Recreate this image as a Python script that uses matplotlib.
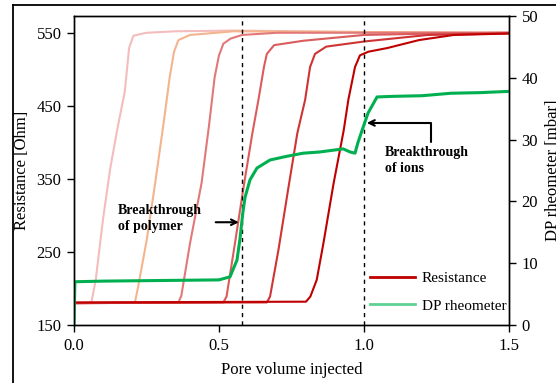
#! /usr/bin/env python3

import matplotlib
matplotlib.use("Agg")
import matplotlib.pyplot as plt
from matplotlib.lines import Line2D

plt.rcParams['font.family'] = ['Liberation Serif', 'DejaVu Serif']

# resistance curves (pore volume injected, resistance in Ohm)
pv_1  = [0, 0.06, 0.075, 0.10, 0.125, 0.15, 0.175, 0.19, 0.205, 0.25, 0.35, 0.55, 1.0, 1.5]
res_1 = [180, 181, 212, 295, 365, 420, 470, 530, 547, 551, 553, 554, 552, 551]

pv_2  = [0, 0.21, 0.22, 0.25, 0.28, 0.31, 0.33, 0.345, 0.36, 0.40, 0.55, 1.0, 1.5]
res_2 = [180, 181, 200, 265, 345, 430, 490, 525, 541, 548, 553, 552, 551]

pv_3  = [0, 0.36, 0.37, 0.40, 0.44, 0.465, 0.485, 0.50, 0.515, 0.54, 0.58, 0.7, 1.0, 1.5]
res_3 = [180, 181, 190, 262, 345, 422, 490, 520, 536, 543, 548, 551, 551, 551]

pv_4  = [0, 0.515, 0.526, 0.555, 0.585, 0.615, 0.636, 0.655, 0.665, 0.69, 0.79, 1.0, 1.25, 1.5]
res_4 = [180, 181, 189, 262, 340, 413, 459, 504, 522, 534, 540, 548, 550, 551]

pv_5  = [0, 0.665, 0.676, 0.705, 0.74, 0.77, 0.797, 0.814, 0.831, 0.87, 1.0, 1.22, 1.5]
res_5 = [180, 181, 189, 253, 340, 413, 459, 504, 522, 532, 539, 548, 550]

pv_6  = [0, 0.80, 0.815, 0.837, 0.86, 0.895, 0.93, 0.946, 0.969, 0.986, 1.015, 1.08, 1.19, 1.31, 1.5]
res_6 = [181, 182, 189, 212, 262, 344, 417, 459, 504, 520, 525, 530, 541, 548, 550]

res_colors = ['#f4bcbc', '#f3b48e', '#e27878', '#da5c5c', '#cf3434', '#c00000']

# DP rheometer [mbar]
pv_dp = [0, 0.003, 0.1, 0.3, 0.5, 0.538, 0.562, 0.572, 0.582, 0.59, 0.607, 0.631,
         0.676, 0.734, 0.79, 0.848, 0.928, 0.952, 0.969, 0.979, 0.997, 1.014,
         1.045, 1.1, 1.2, 1.3, 1.4, 1.5]
dp = [0, 7.0, 7.1, 7.2, 7.3, 7.8, 10.5, 13.8, 18.1, 20.7, 23.5, 25.4,
      26.7, 27.3, 27.8, 28.0, 28.5, 28.0, 27.8, 29.5, 32.0, 34.3,
      36.9, 37.0, 37.1, 37.5, 37.6, 37.8]

breakthroughs = [0.58, 1.0]
xticks = [0.0, 0.5, 1.0, 1.5]
yticks_res = [150, 250, 350, 450, 550]
yticks_dp = [0, 10, 20, 30, 40, 50]

fig = plt.figure(figsize=(5.56, 3.83), dpi=100)
ax = fig.add_axes([74/556, 1 - 325/383, 435/556, 309/383])
ax2 = ax.twinx()

for x, y, c in zip([pv_1, pv_2, pv_3, pv_4, pv_5, pv_6],
                   [res_1, res_2, res_3, res_4, res_5, res_6], res_colors):
    ax.plot(x, y, color=c, lw=1.5)

for b in breakthroughs:
    ax.axvline(b, color='black', ls=(0, (3, 3)), lw=1)

ax2.plot(pv_dp, dp, color='#00b050', lw=2.2)

ax.set_xlim(0, 1.5)
ax.set_ylim(150, 574)
ax2.set_ylim(0, 50)
ax.set_xticks(xticks)
ax.set_xticklabels(['%.1f' % t for t in xticks])
ax.set_yticks(yticks_res)
ax2.set_yticks(yticks_dp)

for a in (ax, ax2):
    a.tick_params(direction='out', length=5, width=1, labelsize=12, pad=4)
    for s in a.spines.values():
        s.set_linewidth(1)

ax.set_xlabel('Pore volume injected', fontsize=12, labelpad=6)
ax.set_ylabel('Resistance [Ohm]', fontsize=12, labelpad=5)
ax2.set_ylabel('DP rheometer [mbar]', fontsize=12, labelpad=5)

# annotations
ax.text(0.152, 296, 'Breakthrough\nof polymer', fontsize=10, fontweight='bold',
        ha='left', va='center', linespacing=1.3)
ax.annotate('', xy=(0.578, 291), xytext=(0.479, 291),
            arrowprops=dict(arrowstyle='->', color='black', lw=1.5))

ax2.text(1.072, 26.6, 'Breakthrough\nof ions', fontsize=10, fontweight='bold',
         ha='left', va='center', linespacing=1.3)
ax2.annotate('', xy=(1.01, 32.7), xytext=(1.231, 29.6),
             arrowprops=dict(arrowstyle='->', color='black', lw=1.5,
                             connectionstyle='angle,angleA=90,angleB=0,rad=0',
                             shrinkA=0, shrinkB=0))

handles = [Line2D([], [], color='#c00000', lw=2),
           Line2D([], [], color='#5fd093', lw=2)]
ax2.legend(handles, ['Resistance', 'DP rheometer'], loc='lower right',
           bbox_to_anchor=(1.025, -0.005), frameon=False, fontsize=11,
           handlelength=3.0, handletextpad=0.4, labelspacing=0.9)

# outer frame (top and left edges visible)
fig.add_artist(Line2D([13/556, 13/556], [0, 1 - 5/383], color='black', lw=1.3))
fig.add_artist(Line2D([13/556, 1], [1 - 5/383, 1 - 5/383], color='black', lw=1.3))

plt.savefig("out.png", dpi=100)
